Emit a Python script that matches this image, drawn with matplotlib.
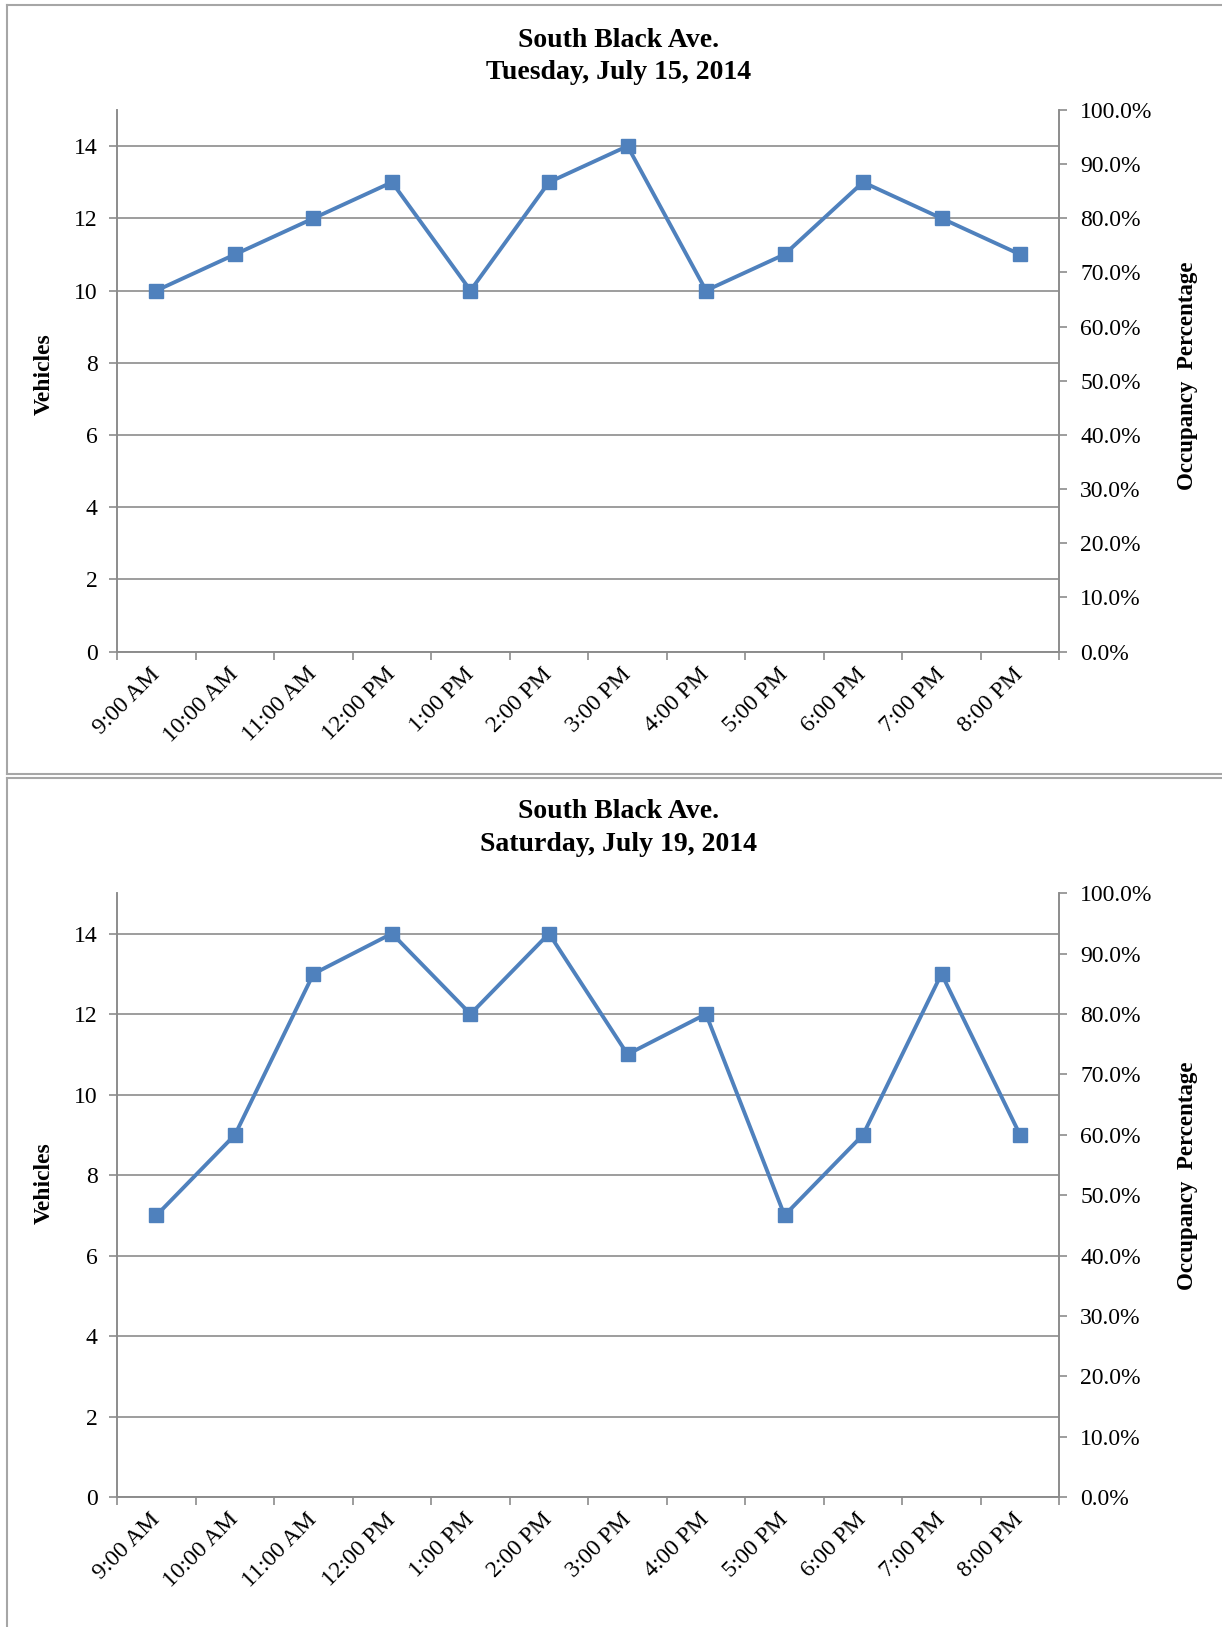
import matplotlib.pyplot as plt
from matplotlib.lines import Line2D
from matplotlib.ticker import FuncFormatter

plt.rcParams['font.family'] = ['Liberation Serif', 'DejaVu Serif']

times = ['9:00 AM', '10:00 AM', '11:00 AM', '12:00 PM', '1:00 PM', '2:00 PM',
         '3:00 PM', '4:00 PM', '5:00 PM', '6:00 PM', '7:00 PM', '8:00 PM']
tuesday = [10, 11, 12, 13, 10, 13, 14, 10, 11, 13, 12, 11]
saturday = [7, 9, 13, 14, 12, 14, 11, 12, 7, 9, 13, 9]
titles = ['Tuesday, July 15, 2014', 'Saturday, July 19, 2014']
street = 'South Black Ave.'

W, H = 1222, 1627
blue = '#4F81BD'
grey = '#8C8C8C'

fig = plt.figure(figsize=(W / 100, H / 100), dpi=100)


def fx(px):
    return px / W


def fy(py):
    return 1 - py / H


# panel frames
for seg in [((7, W), (5, 5)), ((7, 7), (5, 774)), ((7, W), (774, 774)),
            ((7, W), (778, 778)), ((7, 7), (778, H))]:
    xs, ys = seg
    fig.add_artist(Line2D([fx(x) for x in xs], [fy(y) for y in ys],
                          color='#A6A6A6', lw=1.5))

# (axes top px, axes bottom px, title line y's, vehicles label y, occupancy label y)
panels = [
    (110, 651.6, (40.5, 72.5), 0.513, 0.51),
    (893.3, 1497.1, (811, 844.5), 0.52, 0.533),
]
left_px, right_px = 117.2, 1059.3

for (top, bot, ty, vy, oy), vals, title in zip(panels, [tuesday, saturday], titles):
    ax = fig.add_axes([fx(left_px), fy(bot), (right_px - left_px) / W, (bot - top) / H])
    ax2 = ax.twinx()

    x = list(range(len(times)))
    ax.plot(x, vals, color=blue, lw=2.8, marker='s', markersize=10, zorder=3)

    ax.set_xlim(-0.5, len(times) - 0.5)
    ax.set_ylim(0, 15)
    ax.set_yticks(range(0, 15, 2))
    ax.grid(axis='y', color=grey, lw=1.2)
    ax.set_axisbelow(True)

    ax.set_xticks(x)
    ax.set_xticklabels(times, rotation=45, ha='right', va='center', rotation_mode='anchor')
    ax.set_xticks([i - 0.5 for i in range(len(times) + 1)], minor=True)
    ax.tick_params(axis='x', which='major', length=0, pad=14, labelsize=17)
    ax.tick_params(axis='x', which='minor', length=6, width=1.2, color=grey)
    ax.tick_params(axis='y', length=6, width=1.2, color=grey, pad=8, labelsize=17)

    ax2.set_ylim(0, 1)
    ax2.set_yticks([i / 10 for i in range(11)])
    ax2.yaxis.set_major_formatter(FuncFormatter(lambda v, p: f'{v * 100:.1f}%'))
    ax2.tick_params(axis='y', length=6, width=1.2, color=grey, pad=9, labelsize=17)

    for a in (ax, ax2):
        a.spines['top'].set_visible(False)
        for s in ('left', 'right', 'bottom'):
            a.spines[s].set_color(grey)
            a.spines[s].set_linewidth(1.2)

    ax.set_ylabel('Vehicles', fontsize=17, fontweight='bold')
    ax.yaxis.set_label_coords(-0.066, vy)
    ax2.set_ylabel('Occupancy  Percentage', fontsize=16.5, fontweight='bold', rotation=90)
    ax2.yaxis.set_label_coords(1.125, oy)

    fig.text(fx(619), fy(ty[0]), street, ha='center', va='center',
             fontsize=20, fontweight='bold')
    fig.text(fx(619), fy(ty[1]), title, ha='center', va='center',
             fontsize=20, fontweight='bold')

fig.savefig('out.png', dpi=100)
